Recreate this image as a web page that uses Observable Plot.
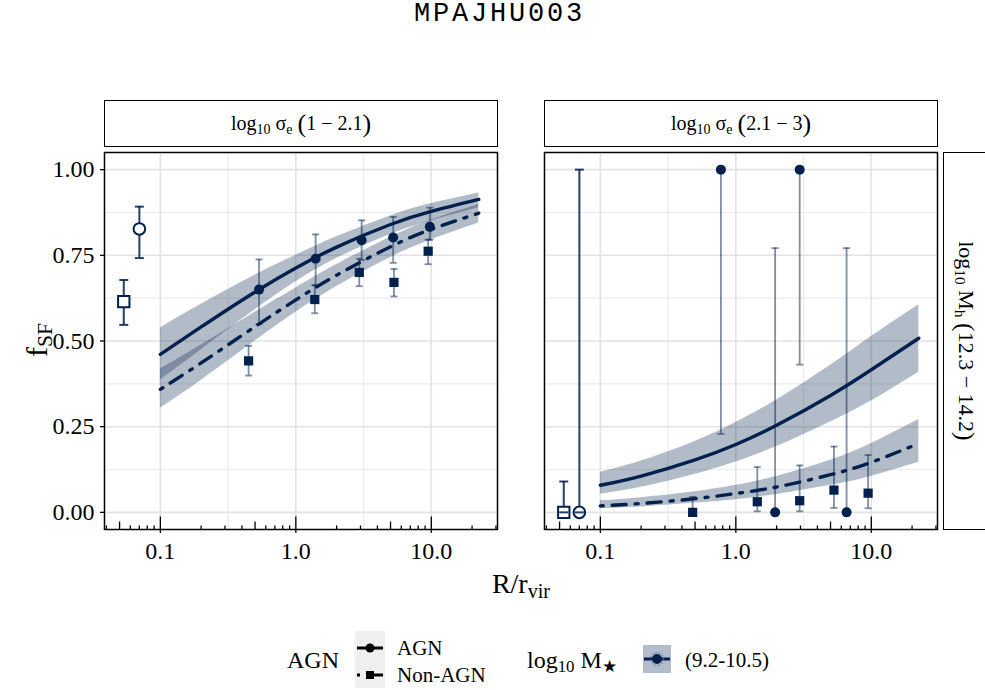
<!DOCTYPE html>
<html><head><meta charset="utf-8">
<script src="https://cdn.jsdelivr.net/npm/d3@7"></script>
<script src="https://cdn.jsdelivr.net/npm/@observablehq/plot@0.6"></script>
<style>
body{margin:0;background:#fff;width:985px;height:690px;position:relative;overflow:hidden;font-family:"Liberation Serif",serif;color:#000}
.abs{position:absolute;white-space:nowrap}
#title{left:0;width:985px;top:-2px;text-align:center;font-family:"Liberation Mono",monospace;font-size:27px;letter-spacing:2.8px;line-height:32px;padding-left:14px;box-sizing:border-box}
.strip{position:absolute;border:1.5px solid #000;box-sizing:border-box;background:#fff}
.stext{position:absolute;left:50%;top:50%;transform:translate(-50%,-50%);font-size:20px;white-space:nowrap}
.big{font-size:26px;vertical-align:-2px}
sub{font-size:0.7em;vertical-align:-0.25em;line-height:0}
#chart{position:absolute;left:0;top:0}
#chart svg text{font-family:"Liberation Serif",serif}
</style></head><body>
<div id="chart"></div>
<div id="title" class="abs">MPAJHU003</div>
<div class="strip" style="left:104px;top:100px;width:394px;height:47px"><span class="stext">log<sub>10</sub> σ<sub>e</sub> <span class="big">(</span>1 − 2.1<span class="big">)</span></span></div>
<div class="strip" style="left:544px;top:100px;width:394px;height:47px"><span class="stext">log<sub>10</sub> σ<sub>e</sub> <span class="big">(</span>2.1 − 3<span class="big">)</span></span></div>
<div class="strip" style="left:943px;top:152px;width:60px;height:378px"><span class="stext" style="left:21px;transform:translate(-50%,-50%) rotate(90deg);font-size:22px">log<sub>10</sub> M<sub>h</sub> <span class="big">(</span>12.3 − 14.2<span class="big">)</span></span></div>
<div class="abs" style="left:37px;top:340px;transform:translate(-50%,-50%) rotate(-90deg);font-size:30px">f<sub style="font-size:0.72em">SF</sub></div>
<div class="abs" style="left:521px;top:584px;transform:translate(-50%,-50%);font-size:28px">R/r<sub style="font-size:0.72em">vir</sub></div>
<!-- legend -->
<div class="abs" style="left:287px;top:660px;transform:translateY(-50%);font-size:24px">AGN</div>
<svg class="abs" style="left:355px;top:631px" width="30" height="57">
  <rect width="30" height="57" fill="#efefef"/>
  <line x1="2" x2="28" y1="17" y2="17" stroke="#000" stroke-width="3"/>
  <circle cx="15" cy="17" r="4.5" fill="#000"/>
  <line x1="2" x2="28" y1="44" y2="44" stroke="#000" stroke-width="3" stroke-dasharray="3 6 30"/>
  <rect x="11" y="40" width="8" height="8" fill="#000"/>
</svg>
<div class="abs" style="left:397px;top:648px;transform:translateY(-50%);font-size:21px">AGN</div>
<div class="abs" style="left:397px;top:675px;transform:translateY(-50%);font-size:21px">Non-AGN</div>
<div class="abs" style="left:527px;top:660px;transform:translateY(-50%);font-size:24px">log<sub>10</sub> M<sub>★</sub></div>
<svg class="abs" style="left:643px;top:645px" width="28" height="28">
  <rect width="28" height="28" fill="#B3BCCA"/>
  <line x1="1" x2="27" y1="14" y2="14" stroke="#00204D" stroke-width="3"/>
  <circle cx="14" cy="14" r="6.5" fill="none" stroke="#5a6f8c" stroke-width="1" stroke-dasharray="2 1.5"/>
  <circle cx="14" cy="14" r="5" fill="#00204D"/>
</svg>
<div class="abs" style="left:685px;top:660px;transform:translateY(-50%);font-size:21px">(9.2-10.5)</div>
<script>
// ---------- data ----------
const panelKeys = ["sigma_1_2.1", "sigma_2.1_3"];
const groups = ["AGN", "Non-AGN"];

// fitted curves (read at these R/r_vir values)
const fitR = [0.1, 0.2, 0.5, 1, 2, 5, 10, 22.4];
const fitAgnL   = [0.461, 0.541, 0.643, 0.713, 0.774, 0.840, 0.878, 0.913];
const fitAgnLLo = [0.386, 0.474, 0.591, 0.673, 0.741, 0.811, 0.851, 0.889];
const fitAgnLHi = [0.538, 0.607, 0.692, 0.750, 0.804, 0.865, 0.901, 0.932];
const fitNonL   = [0.359, 0.436, 0.542, 0.620, 0.692, 0.775, 0.826, 0.873];
const fitNonLLo = [0.304, 0.385, 0.500, 0.584, 0.659, 0.744, 0.795, 0.844];
const fitNonLHi = [0.418, 0.488, 0.584, 0.655, 0.723, 0.803, 0.853, 0.898];
const fitAgnR   = [0.079, 0.106, 0.153, 0.198, 0.254, 0.341, 0.416, 0.508];
const fitAgnRLo = [0.053, 0.073, 0.111, 0.147, 0.192, 0.264, 0.325, 0.409];
const fitAgnRHi = [0.117, 0.150, 0.207, 0.262, 0.328, 0.429, 0.513, 0.606];
const fitNonR   = [0.019, 0.026, 0.040, 0.055, 0.074, 0.110, 0.146, 0.201];
const fitNonRLo = [0.011, 0.016, 0.027, 0.037, 0.052, 0.079, 0.105, 0.146];
const fitNonRHi = [0.034, 0.043, 0.060, 0.079, 0.105, 0.152, 0.201, 0.271];

// binned points, left panel
const agnRL  = [0.535, 1.40, 3.06, 5.23, 9.75];
const agnFL  = [0.650, 0.740, 0.794, 0.802, 0.833];
const agnLoL = [0.549, 0.662, 0.736, 0.728, 0.795];
const agnHiL = [0.738, 0.811, 0.852, 0.862, 0.889];
const nonRL  = [0.448, 1.38, 2.94, 5.30, 9.48];
const nonFL  = [0.442, 0.621, 0.700, 0.671, 0.762];
const nonLoL = [0.399, 0.581, 0.660, 0.630, 0.724];
const nonHiL = [0.486, 0.663, 0.740, 0.710, 0.796];
// binned points, right panel
const agnRR  = [0.776, 1.95, 2.96, 6.57];
const agnFR  = [1.0, 0.0, 1.0, 0.0];
const agnLoR = [0.229, 0.0, 0.431, 0.0];
const agnHiR = [1.0, 0.771, 1.0, 0.771];
const nonRR  = [0.48, 1.44, 2.96, 5.30, 9.47];
const nonFR  = [0.0, 0.031, 0.034, 0.065, 0.056];
const nonLoR = [0.0, 0.003, 0.003, 0.013, 0.012];
const nonHiR = [0.045, 0.132, 0.137, 0.192, 0.167];
// field (open symbols): [AGN, Non-AGN]
const fieldR   = [0.070, 0.0537];
const fieldFL  = [0.827, 0.615];
const fieldLoL = [0.742, 0.547];
const fieldHiL = [0.892, 0.678];
const fieldFR  = [0.0, 0.0];
const fieldLoR = [0.0, 0.0];
const fieldHiR = [1.0, 0.090];

// axes
const xTicks = [0.1, 1, 10];
const xTickLabels = ["0.1", "1.0", "10.0"];
const yTicks = [0, 0.25, 0.5, 0.75, 1];
const yTickLabels = ["0.00", "0.25", "0.50", "0.75", "1.00"];
const yMinor = [0.125, 0.375, 0.625, 0.875];
const xMinor = [0.0316, 0.316, 3.16];
const logLong = [0.1, 1, 10];
const logMid = [0.05, 0.5, 5];
const logShort = [0.04, 0.06, 0.07, 0.08, 0.09, 0.2, 0.3, 0.4, 0.6, 0.7, 0.8, 0.9, 2, 3, 4, 6, 7, 8, 9, 20, 30];

// ---------- tables ----------
const navy = "#00204D";
const fits = [];
const addFit = (panel, group, f, lo, hi) => fitR.forEach((R, i) => fits.push({panel, group, R, f: f[i], lo: lo[i], hi: hi[i]}));
addFit(panelKeys[0], "AGN", fitAgnL, fitAgnLLo, fitAgnLHi);
addFit(panelKeys[0], "Non-AGN", fitNonL, fitNonLLo, fitNonLHi);
addFit(panelKeys[1], "AGN", fitAgnR, fitAgnRLo, fitAgnRHi);
addFit(panelKeys[1], "Non-AGN", fitNonR, fitNonRLo, fitNonRHi);

const pts = [];
const addPts = (panel, group, R, f, lo, hi) => R.forEach((r, i) => pts.push({panel, group, R: r, f: f[i], lo: lo[i], hi: hi[i]}));
addPts(panelKeys[0], "AGN", agnRL, agnFL, agnLoL, agnHiL);
addPts(panelKeys[0], "Non-AGN", nonRL, nonFL, nonLoL, nonHiL);
addPts(panelKeys[1], "AGN", agnRR, agnFR, agnLoR, agnHiR);
addPts(panelKeys[1], "Non-AGN", nonRR, nonFR, nonLoR, nonHiR);

const field = [];
groups.forEach((g, i) => {
  field.push({panel: panelKeys[0], group: g, R: fieldR[i], f: fieldFL[i], lo: fieldLoL[i], hi: fieldHiL[i]});
  field.push({panel: panelKeys[1], group: g, R: fieldR[i], f: fieldFR[i], lo: fieldLoR[i], hi: fieldHiR[i]});
});

// custom symbols: horizontal cap and upward tick
const capSym = {draw(ctx, size) { const w = Math.sqrt(size / Math.PI); ctx.moveTo(-w, 0); ctx.lineTo(w, 0); }};
const vTick = {draw(ctx, size) { const L = Math.sqrt(size / Math.PI); ctx.moveTo(0, 0); ctx.lineTo(0, -L); }};
const symOf = d => d.group === "AGN" ? "circle" : "square";

const xLab = new Map(xTicks.map((t, i) => [t, xTickLabels[i]]));
const yLab = new Map(yTicks.map((t, i) => [t, yTickLabels[i]]));
const serif = '"Liberation Serif", serif';

const chart = Plot.plot({
  width: 985, height: 610,
  marginTop: 152, marginBottom: 81, marginLeft: 104, marginRight: 47,
  style: {fontFamily: serif, fontSize: "24px", color: "#000", background: "transparent", overflow: "visible"},
  fx: {domain: panelKeys, paddingInner: 0.1066, paddingOuter: 0, label: null, axis: null},
  x: {type: "log", domain: [0.0387, 30.8]},
  y: {domain: [-0.05, 1.05]},
  r: {type: "identity"},
  symbol: {type: "identity"},
  marks: [
    Plot.gridY(yMinor, {stroke: "#ebebeb", strokeOpacity: 1, strokeWidth: 1.2}),
    Plot.gridX(xMinor.filter(d => d > 0.0387), {stroke: "#ebebeb", strokeOpacity: 1, strokeWidth: 1.2}),
    Plot.gridY(yTicks, {stroke: "#e3e3e3", strokeOpacity: 1, strokeWidth: 1.6}),
    Plot.gridX(xTicks, {stroke: "#e3e3e3", strokeOpacity: 1, strokeWidth: 1.6}),
    Plot.areaY(fits, {fx: "panel", x: "R", y1: "lo", y2: "hi", z: "group", fill: navy, fillOpacity: 0.3, curve: "natural"}),
    Plot.line(fits.filter(d => d.group === "AGN"), {fx: "panel", x: "R", y: "f", stroke: navy, strokeWidth: 3.4, curve: "natural"}),
    Plot.line(fits.filter(d => d.group === "Non-AGN"), {fx: "panel", x: "R", y: "f", stroke: navy, strokeWidth: 3.4, curve: "natural", strokeDasharray: "3 9 14 9"}),
    // error bars of binned points
    Plot.ruleX(pts, {fx: "panel", x: "R", y1: "lo", y2: "hi", stroke: navy, strokeOpacity: 0.5, strokeWidth: 1.8}),
    Plot.dot(pts, {fx: "panel", x: "R", y: "lo", symbol: capSym, r: 3.5, fill: "none", stroke: navy, strokeOpacity: 0.5, strokeWidth: 1.8}),
    Plot.dot(pts, {fx: "panel", x: "R", y: "hi", symbol: capSym, r: 3.5, fill: "none", stroke: navy, strokeOpacity: 0.5, strokeWidth: 1.8}),
    Plot.dot(pts, {fx: "panel", x: "R", y: "f", symbol: symOf, r: d => d.group === "AGN" ? 5 : 5.2, fill: navy, stroke: "none"}),
    // field points
    Plot.ruleX(field, {fx: "panel", x: "R", y1: "lo", y2: "hi", stroke: navy, strokeOpacity: 0.85, strokeWidth: 2}),
    Plot.dot(field, {fx: "panel", x: "R", y: "f", symbol: symOf, r: d => d.group === "AGN" ? 5.8 : 6.4, fill: "white", stroke: navy, strokeWidth: 2}),
    Plot.dot(field, {fx: "panel", x: "R", y: "lo", symbol: capSym, r: 4.5, fill: "none", stroke: navy, strokeOpacity: 0.85, strokeWidth: 2}),
    Plot.dot(field, {fx: "panel", x: "R", y: "hi", symbol: capSym, r: 4.5, fill: "none", stroke: navy, strokeOpacity: 0.85, strokeWidth: 2}),
    // log ticks at the bottom of each panel
    Plot.dot(logShort, {x: d => d, frameAnchor: "bottom", symbol: vTick, r: 4, fill: "none", stroke: "#000", strokeWidth: 1.3}),
    Plot.dot(logMid, {x: d => d, frameAnchor: "bottom", symbol: vTick, r: 8, fill: "none", stroke: "#000", strokeWidth: 1.3}),
    Plot.dot(logLong, {x: d => d, frameAnchor: "bottom", symbol: vTick, r: 13, fill: "none", stroke: "#000", strokeWidth: 1.3}),
    Plot.frame({stroke: "#000", strokeWidth: 1.5}),
    Plot.axisX({ticks: xTicks, tickFormat: d => xLab.get(d), tickSize: 4, tickPadding: 8, fontSize: 24, fontFamily: serif, label: null, strokeWidth: 1.3}),
    Plot.axisY({ticks: yTicks, tickFormat: d => yLab.get(d), tickSize: 4, tickPadding: 6, fontSize: 24, fontFamily: serif, label: null, strokeWidth: 1.3})
  ]
});
document.getElementById("chart").appendChild(chart);
</script>
</body></html>
